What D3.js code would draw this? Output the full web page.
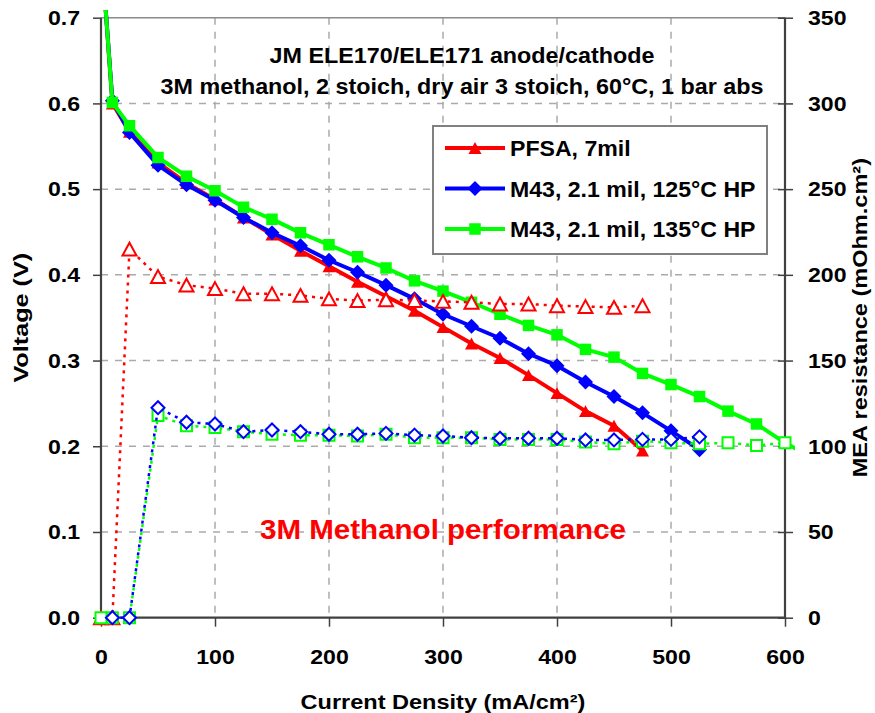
<!DOCTYPE html>
<html>
<head>
<meta charset="utf-8">
<script src="https://cdn.jsdelivr.net/npm/d3@7"></script>
<style>
    html, body { margin: 0; padding: 0; background: #fff; }
    svg { display: block; }
    text { font-family: 'Liberation Sans', Arial, sans-serif; font-weight: bold; }
</style>
</head>
<body>
<svg id="chart" width="875" height="713"></svg>
<script>
// current density steps (mA/cm2), shared by all series
const density = [0, 10, 25, 50, 75, 100, 125, 150, 175, 200, 225, 250, 275, 300, 325, 350, 375, 400, 425, 450, 475, 500, 525, 550, 575, 600, 625];

// voltage (V), left axis
const voltPFSA = [0.785, 0.600, 0.567, 0.531, 0.507, 0.488, 0.467, 0.447, 0.428, 0.410, 0.392, 0.375, 0.358, 0.339, 0.320, 0.303, 0.283, 0.262, 0.241, 0.224, 0.195];
const volt125 = [0.785, 0.603, 0.566, 0.528, 0.505, 0.487, 0.467, 0.449, 0.434, 0.417, 0.403, 0.388, 0.372, 0.354, 0.340, 0.326, 0.308, 0.294, 0.275, 0.258, 0.239, 0.218, 0.196];
const volt135 = [0.785, 0.601, 0.574, 0.537, 0.515, 0.498, 0.479, 0.465, 0.449, 0.435, 0.421, 0.408, 0.393, 0.381, 0.368, 0.354, 0.341, 0.330, 0.313, 0.304, 0.285, 0.272, 0.258, 0.241, 0.226, 0.204, 0.186];

// MEA resistance (mOhm.cm2), right axis; null = no point
const resPFSA = [0, 0, 215, 199, 194, 192, 189, 189, 188, 186, 185, 185.5, 185, 184.5, 184, 183, 183, 182, 181.5, 181, 182];
const res125 = [null, 0, 0, 122.5, 114, 113, 108.5, 109.5, 108.5, 107, 107, 107.5, 106.5, 106, 105, 104.7, 104.7, 104.7, 103.7, 103.7, 104, 104, 105.5];
const res135 = [0, 0, 0, 118, 112, 111, 108.5, 107, 106.5, 106.5, 106, 107, 105, 105, 105, 104, 104, 104, 102.5, 101.5, 103, 102, 101.5, 102, 100.5, 102];

const seriesNames = ['PFSA, 7mil', 'M43, 2.1 mil, 125°C HP', 'M43, 2.1 mil, 135°C HP'];
const titleLines = ['JM ELE170/ELE171 anode/cathode', '3M methanol, 2 stoich, dry air 3 stoich, 60°C, 1 bar abs'];

const xTicks = [0, 100, 200, 300, 400, 500, 600];
const voltTicks = [0, 0.1, 0.2, 0.3, 0.4, 0.5, 0.6, 0.7];
const resTicks = [0, 50, 100, 150, 200, 250, 300, 350];

const margin = { top: 17.7, right: 90, bottom: 95.3, left: 101 };
const width = 875;
const height = 713;

const x = d3.scaleLinear().domain([0, 600]).range([margin.left, width - margin.right]);
const yV = d3.scaleLinear().domain([0, 0.7]).range([height - margin.bottom, margin.top]);
const yR = d3.scaleLinear().domain([0, 350]).range([height - margin.bottom, margin.top]);

const svg = d3.select('#chart');

// stretch glyphs a little, the source font runs wider than Arial
function widen(selection, k) {
    selection.each(function () {
        const w = this.getComputedTextLength();
        d3.select(this).attr('textLength', w * k).attr('lengthAdjust', 'spacingAndGlyphs');
    });
}

function markerPath(type, s) {
    if (type === 'triangle') {
        const w = s, h = s * 0.92;
        return `M0,${-h / 2}L${w / 2},${h / 2}L${-w / 2},${h / 2}Z`;
    }
    if (type === 'diamond') {
        const r = s / 2;
        return `M0,${-r}L${r},0L0,${r}L${-r},0Z`;
    }
    const r = s / 2;
    return `M${-r},${-r}H${r}V${r}H${-r}Z`;
}

const plotTop = margin.top;
const plotBottom = height - margin.bottom;
const plotLeft = margin.left;
const plotRight = width - margin.right;

// grid
const grid = svg.append('g')
    .attr('stroke', '#aaaaaa')
    .attr('stroke-width', 1.5)
    .attr('stroke-dasharray', '7,7');
grid.selectAll('line.v')
    .data(xTicks.filter(d => d > 0 && d < 600))
    .join('line')
    .attr('class', 'v')
    .attr('x1', d => x(d)).attr('x2', d => x(d))
    .attr('y1', plotTop).attr('y2', plotBottom);
grid.selectAll('line.h')
    .data(voltTicks.filter(d => d > 0 && d < 0.7))
    .join('line')
    .attr('class', 'h')
    .attr('x1', plotLeft).attr('x2', plotRight)
    .attr('y1', d => yV(d)).attr('y2', d => yV(d));

svg.append('line')
    .attr('x1', plotLeft).attr('x2', plotRight)
    .attr('y1', plotTop).attr('y2', plotTop)
    .attr('stroke', '#8a8a8a')
    .attr('stroke-width', 1.5);

// axes
const axisColor = '#404040';
const xAxis = svg.append('g')
    .attr('transform', `translate(0,${plotBottom})`)
    .call(d3.axisBottom(x).tickValues(xTicks).tickSizeInner(9).tickSizeOuter(0).tickPadding(22));
const yAxisL = svg.append('g')
    .attr('transform', `translate(${plotLeft},0)`)
    .call(d3.axisLeft(yV).tickValues(voltTicks).tickFormat(d3.format('.1f')).tickSizeInner(8).tickSizeOuter(0).tickPadding(13));
const yAxisR = svg.append('g')
    .attr('transform', `translate(${plotRight - 7},0)`)
    .call(d3.axisRight(yR).tickValues(resTicks).tickSizeInner(15).tickSizeOuter(0).tickPadding(15));

[xAxis, yAxisL, yAxisR].forEach(a => {
    a.select('.domain').remove();
    a.selectAll('line').attr('stroke', axisColor).attr('stroke-width', 1.5);
    a.selectAll('text')
        .attr('fill', '#000')
        .style('font-size', '21px')
        .style('font-family', "'Liberation Sans', Arial, sans-serif")
        .style('font-weight', 'bold')
        .call(widen, 1.1);
});

svg.append('path')
    .attr('d', `M${plotLeft},${plotTop}V${plotBottom}H${plotRight}V${plotTop}`)
    .attr('fill', 'none')
    .attr('stroke', axisColor)
    .attr('stroke-width', 2.2);

// series
svg.append('clipPath').attr('id', 'clip')
    .append('rect')
    .attr('x', 0).attr('y', 10)
    .attr('width', plotRight + 10).attr('height', plotBottom);

const plot = svg.append('g').attr('clip-path', 'url(#clip)');

function pointsOf(values) {
    return values
        .map((v, i) => ({ x: density[i], v }))
        .filter(d => d.v != null);
}

const voltSeries = [
    { values: voltPFSA, color: '#ff0000', marker: 'triangle', size: 13 },
    { values: volt125, color: '#0000ff', marker: 'diamond', size: 15 },
    { values: volt135, color: '#00ff00', marker: 'square', size: 11.5 },
];
const resSeries = [
    { values: resPFSA, color: '#ff0000', marker: 'triangle', size: 14 },
    { values: res135, color: '#00ff00', marker: 'square', size: 11 },
    { values: res125, color: '#0000ff', marker: 'diamond', size: 13 },
];

voltSeries.forEach(s => {
    const pts = pointsOf(s.values);
    const line = d3.line().x(d => x(d.x)).y(d => yV(d.v));
    plot.append('path')
        .datum(pts)
        .attr('d', line)
        .attr('fill', 'none')
        .attr('stroke', s.color)
        .attr('stroke-width', 4)
        .attr('stroke-linejoin', 'round');
    plot.selectAll(null)
        .data(pts)
        .join('path')
        .attr('transform', d => `translate(${x(d.x)},${yV(d.v)})`)
        .attr('d', markerPath(s.marker, s.size))
        .attr('fill', s.color);
});

resSeries.forEach(s => {
    const pts = pointsOf(s.values);
    const line = d3.line().x(d => x(d.x)).y(d => yR(d.v));
    plot.append('path')
        .datum(pts)
        .attr('d', line)
        .attr('fill', 'none')
        .attr('stroke', s.color)
        .attr('stroke-width', 2.5)
        .attr('stroke-dasharray', '3,5');
    plot.selectAll(null)
        .data(pts)
        .join('path')
        .attr('transform', d => `translate(${x(d.x)},${yR(d.v)})`)
        .attr('d', markerPath(s.marker, s.size))
        .attr('fill', '#fff')
        .attr('stroke', s.color)
        .attr('stroke-width', 2);
});

// legend
const legend = svg.append('g').attr('transform', 'translate(433,126)');
legend.append('rect')
    .attr('width', 334).attr('height', 128)
    .attr('fill', '#fff')
    .attr('stroke', '#808080')
    .attr('stroke-width', 2);
const rows = legend.selectAll('g.row')
    .data(voltSeries)
    .join('g')
    .attr('class', 'row')
    .attr('transform', (d, i) => `translate(0,${22 + i * 40.5})`);
rows.append('line')
    .attr('x1', 12).attr('x2', 72)
    .attr('stroke', d => d.color)
    .attr('stroke-width', 4);
rows.append('path')
    .attr('transform', 'translate(42,0)')
    .attr('d', d => markerPath(d.marker, d.size))
    .attr('fill', d => d.color);
rows.append('text')
    .attr('x', 77)
    .attr('y', 8)
    .style('font-size', '22px')
    .text((d, i) => seriesNames[i])
    .call(widen, 1.05);

// titles
svg.append('g')
    .selectAll('text')
    .data(titleLines)
    .join('text')
    .attr('x', 462)
    .attr('y', (d, i) => 63 + i * 31)
    .attr('text-anchor', 'middle')
    .style('font-size', '22px')
    .text(d => d)
    .call(widen, 1.06);

svg.append('text')
    .attr('x', 443)
    .attr('y', 539)
    .attr('text-anchor', 'middle')
    .attr('fill', '#ff0000')
    .style('font-size', '28px')
    .text('3M Methanol performance')
    .call(widen, 1.055);

svg.append('text')
    .attr('x', (plotLeft + plotRight) / 2)
    .attr('y', 708.5)
    .attr('text-anchor', 'middle')
    .style('font-size', '21px')
    .text('Current Density (mA/cm²)')
    .call(widen, 1.12);

svg.append('text')
    .attr('transform', `translate(28,${(plotTop + plotBottom) / 2}) rotate(-90)`)
    .attr('text-anchor', 'middle')
    .style('font-size', '21px')
    .text('Voltage (V)')
    .call(widen, 1.2);

svg.append('text')
    .attr('transform', `translate(867,${(plotTop + plotBottom) / 2}) rotate(-90)`)
    .attr('text-anchor', 'middle')
    .style('font-size', '21px')
    .text('MEA resistance (mOhm.cm²)')
    .call(widen, 1.12);
</script>
</body>
</html>
